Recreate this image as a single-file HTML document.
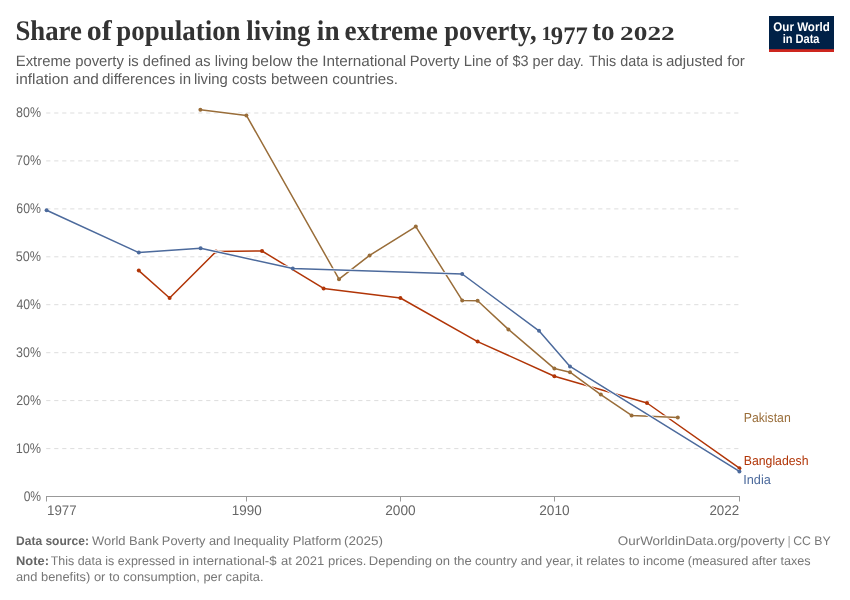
<!DOCTYPE html>
<html><head><meta charset="utf-8"><title>Share of population living in extreme poverty</title>
<style>
html,body{margin:0;padding:0;background:#fff;}
body{width:850px;height:600px;overflow:hidden;}
svg{display:block;will-change:transform;text-rendering:geometricPrecision;font-family:"Liberation Sans",sans-serif;}
.ax{font-size:14px;fill:#666;}
.title{font-family:"Liberation Serif",serif;font-weight:bold;font-size:28.5px;fill:#333;}
.num{font-family:"Liberation Serif",serif;font-weight:bold;font-size:20px;fill:#333;}
.num2{font-family:"Liberation Serif",serif;font-weight:bold;font-size:25.4px;fill:#333;}
.sub{font-size:15px;fill:#5b5b5b;}
.ft{font-size:12.5px;fill:#777;}
.ftb{font-weight:bold;fill:#666;}
.lbl{font-size:13px;}
.logo{font-size:12.5px;font-weight:bold;fill:#fff;}
</style></head><body>
<svg width="850" height="600" viewBox="0 0 850 600">
<rect width="850" height="600" fill="#fff"/>
<g id="title">
<text id="t0" class="title" x="15.47" y="40" textLength="66.42" lengthAdjust="spacingAndGlyphs">Share</text>
<text id="t1" class="title" x="86.77" y="40" textLength="24.97" lengthAdjust="spacingAndGlyphs">of</text>
<text id="t2" class="title" x="116.36" y="40" textLength="124.21" lengthAdjust="spacingAndGlyphs">population</text>
<text id="t3" class="title" x="246.37" y="40" textLength="64.04" lengthAdjust="spacingAndGlyphs">living</text>
<text id="t4" class="title" x="316.87" y="40" textLength="22.68" lengthAdjust="spacingAndGlyphs">in</text>
<text id="t5" class="title" x="344.62" y="40" textLength="93.26" lengthAdjust="spacingAndGlyphs">extreme</text>
<text id="t6" class="title" x="444.33" y="40" textLength="92.27" lengthAdjust="spacingAndGlyphs">poverty,</text>
<text id="t7" class="title" x="592.12" y="40" textLength="22.52" lengthAdjust="spacingAndGlyphs">to</text>
<text id="n1" class="num" x="541.39" y="40" textLength="9.94" lengthAdjust="spacingAndGlyphs">1</text>
<text id="n2" class="num2" x="550.83" y="44" textLength="37.00" lengthAdjust="spacingAndGlyphs">977</text>
<text id="n3" class="num" x="620.13" y="40" textLength="54.53" lengthAdjust="spacingAndGlyphs">2022</text>
</g>
<g id="subtitle">
<text id="s1_0" class="sub" x="15.75" y="66" textLength="122.95" lengthAdjust="spacingAndGlyphs">Extreme poverty is</text>
<text id="s1_1" class="sub" x="142.85" y="66" textLength="105.29" lengthAdjust="spacingAndGlyphs">defined as living</text>
<text id="s1_2" class="sub" x="251.67" y="66" textLength="66.70" lengthAdjust="spacingAndGlyphs">below the</text>
<text id="s1_3" class="sub" x="322.16" y="66" textLength="84.08" lengthAdjust="spacingAndGlyphs">International</text>
<text id="s1_4" class="sub" x="409.76" y="66" textLength="98.23" lengthAdjust="spacingAndGlyphs">Poverty Line of</text>
<text id="s1_5" class="sub" x="512.52" y="66" textLength="71.26" lengthAdjust="spacingAndGlyphs">$3 per day.</text>
<text id="s1_6" class="sub" x="589.08" y="66" textLength="73.56" lengthAdjust="spacingAndGlyphs">This data is</text>
<text id="s1_7" class="sub" x="665.95" y="66" textLength="78.88" lengthAdjust="spacingAndGlyphs">adjusted for</text>
<text id="s2_0" class="sub" x="15.87" y="84" textLength="82.91" lengthAdjust="spacingAndGlyphs">inflation and</text>
<text id="s2_1" class="sub" x="102.03" y="84" textLength="89.04" lengthAdjust="spacingAndGlyphs">differences in</text>
<text id="s2_2" class="sub" x="193.98" y="84" textLength="72.77" lengthAdjust="spacingAndGlyphs">living costs</text>
<text id="s2_3" class="sub" x="270.92" y="84" textLength="127.06" lengthAdjust="spacingAndGlyphs">between countries.</text>
</g>
<g id="logo">
<rect x="769" y="16" width="65" height="36" fill="#002147"/>
<rect x="769" y="49.2" width="65" height="2.8" fill="#ce261e"/>
<text id="l1" class="logo" x="773.37" y="30.6" textLength="56.37" lengthAdjust="spacingAndGlyphs">Our World</text>
<text id="l2" class="logo" x="782.63" y="42.6" textLength="36.91" lengthAdjust="spacingAndGlyphs">in Data</text>
</g>
<g id="grid">
<line x1="46.2" x2="739.4" y1="448.6" y2="448.6" stroke="#ddd" stroke-width="1" stroke-dasharray="4.2,3.8"/>
<line x1="46.2" x2="739.4" y1="400.6" y2="400.6" stroke="#ddd" stroke-width="1" stroke-dasharray="4.2,3.8"/>
<line x1="46.2" x2="739.4" y1="352.7" y2="352.7" stroke="#ddd" stroke-width="1" stroke-dasharray="4.2,3.8"/>
<line x1="46.2" x2="739.4" y1="304.7" y2="304.7" stroke="#ddd" stroke-width="1" stroke-dasharray="4.2,3.8"/>
<line x1="46.2" x2="739.4" y1="256.8" y2="256.8" stroke="#ddd" stroke-width="1" stroke-dasharray="4.2,3.8"/>
<line x1="46.2" x2="739.4" y1="208.9" y2="208.9" stroke="#ddd" stroke-width="1" stroke-dasharray="4.2,3.8"/>
<line x1="46.2" x2="739.4" y1="160.9" y2="160.9" stroke="#ddd" stroke-width="1" stroke-dasharray="4.2,3.8"/>
<line x1="46.2" x2="739.4" y1="113.0" y2="113.0" stroke="#ddd" stroke-width="1" stroke-dasharray="4.2,3.8"/>
</g>
<line x1="46" x2="740" y1="496.5" y2="496.5" stroke="#999" stroke-width="1"/>
<line x1="46.5" x2="46.5" y1="496.0" y2="501.5" stroke="#999" stroke-width="1"/>
<line x1="246.5" x2="246.5" y1="496.0" y2="501.5" stroke="#999" stroke-width="1"/>
<line x1="400.5" x2="400.5" y1="496.0" y2="501.5" stroke="#999" stroke-width="1"/>
<line x1="554.5" x2="554.5" y1="496.0" y2="501.5" stroke="#999" stroke-width="1"/>
<line x1="739.5" x2="739.5" y1="496.0" y2="501.5" stroke="#999" stroke-width="1"/>

<g id="ylabels">
<text id="y0" class="ax" x="23.67" y="501" textLength="17.42" lengthAdjust="spacingAndGlyphs">0%</text>
<text id="y1" class="ax" x="15.81" y="453" textLength="25.32" lengthAdjust="spacingAndGlyphs">10%</text>
<text id="y2" class="ax" x="16.15" y="405" textLength="24.88" lengthAdjust="spacingAndGlyphs">20%</text>
<text id="y3" class="ax" x="16.08" y="357" textLength="24.90" lengthAdjust="spacingAndGlyphs">30%</text>
<text id="y4" class="ax" x="16.46" y="309" textLength="24.55" lengthAdjust="spacingAndGlyphs">40%</text>
<text id="y5" class="ax" x="15.81" y="261" textLength="25.29" lengthAdjust="spacingAndGlyphs">50%</text>
<text id="y6" class="ax" x="16.31" y="213" textLength="24.60" lengthAdjust="spacingAndGlyphs">60%</text>
<text id="y7" class="ax" x="15.93" y="165" textLength="25.16" lengthAdjust="spacingAndGlyphs">70%</text>
<text id="y8" class="ax" x="16.04" y="117" textLength="24.94" lengthAdjust="spacingAndGlyphs">80%</text>
</g>
<g id="xlabels">
<text id="x0" class="ax" x="47.06" y="515" textLength="29.65" lengthAdjust="spacingAndGlyphs">1977</text>
<text id="x1" class="ax" x="231.84" y="515" textLength="29.88" lengthAdjust="spacingAndGlyphs">1990</text>
<text id="x2" class="ax" x="385.27" y="515" textLength="30.43" lengthAdjust="spacingAndGlyphs">2000</text>
<text id="x3" class="ax" x="539.27" y="515" textLength="30.43" lengthAdjust="spacingAndGlyphs">2010</text>
<text id="x4" class="ax" x="709.42" y="515" textLength="29.74" lengthAdjust="spacingAndGlyphs">2022</text>
</g>
<g id="lines">
<path d="M138.8,270.6 L169.6,298.0 L216.0,251.6 L262.0,251.0 L323.6,288.4 L400.4,298.0 L477.6,341.6 L554.4,376.2 L647.0,403.0 L739.4,468.2" fill="none" stroke="#fff" stroke-width="3" stroke-linejoin="round" stroke-linecap="butt"/>
<path d="M138.8,270.6 L169.6,298.0 L216.0,251.6 L262.0,251.0 L323.6,288.4 L400.4,298.0 L477.6,341.6 L554.4,376.2 L647.0,403.0 L739.4,468.2" fill="none" stroke="#B13507" stroke-width="1.5" stroke-linejoin="round" stroke-linecap="round"/>
<circle cx="138.8" cy="270.6" r="2" fill="#B13507"/><circle cx="169.6" cy="298.0" r="2" fill="#B13507"/><circle cx="216.0" cy="251.6" r="2" fill="#B13507"/><circle cx="262.0" cy="251.0" r="2" fill="#B13507"/><circle cx="323.6" cy="288.4" r="2" fill="#B13507"/><circle cx="400.4" cy="298.0" r="2" fill="#B13507"/><circle cx="477.6" cy="341.6" r="2" fill="#B13507"/><circle cx="554.4" cy="376.2" r="2" fill="#B13507"/><circle cx="647.0" cy="403.0" r="2" fill="#B13507"/><circle cx="739.4" cy="468.2" r="2" fill="#B13507"/>
<path d="M200.4,109.8 L246.4,115.4 L339.0,279.2 L369.6,255.4 L415.8,226.6 L462.2,300.4 L477.6,300.8 L508.4,329.4 L554.4,368.6 L570.0,372.2 L600.8,394.6 L631.6,415.4 L677.8,417.4" fill="none" stroke="#fff" stroke-width="3" stroke-linejoin="round" stroke-linecap="butt"/>
<path d="M200.4,109.8 L246.4,115.4 L339.0,279.2 L369.6,255.4 L415.8,226.6 L462.2,300.4 L477.6,300.8 L508.4,329.4 L554.4,368.6 L570.0,372.2 L600.8,394.6 L631.6,415.4 L677.8,417.4" fill="none" stroke="#996D39" stroke-width="1.5" stroke-linejoin="round" stroke-linecap="round"/>
<circle cx="200.4" cy="109.8" r="2" fill="#996D39"/><circle cx="246.4" cy="115.4" r="2" fill="#996D39"/><circle cx="339.0" cy="279.2" r="2" fill="#996D39"/><circle cx="369.6" cy="255.4" r="2" fill="#996D39"/><circle cx="415.8" cy="226.6" r="2" fill="#996D39"/><circle cx="462.2" cy="300.4" r="2" fill="#996D39"/><circle cx="477.6" cy="300.8" r="2" fill="#996D39"/><circle cx="508.4" cy="329.4" r="2" fill="#996D39"/><circle cx="554.4" cy="368.6" r="2" fill="#996D39"/><circle cx="570.0" cy="372.2" r="2" fill="#996D39"/><circle cx="600.8" cy="394.6" r="2" fill="#996D39"/><circle cx="631.6" cy="415.4" r="2" fill="#996D39"/><circle cx="677.8" cy="417.4" r="2" fill="#996D39"/>
<path d="M46.6,210.2 L138.8,252.6 L200.6,248.2 L292.8,268.5 L462.2,274.0 L539.0,330.8 L570.0,366.4 L739.4,471.4" fill="none" stroke="#fff" stroke-width="3" stroke-linejoin="round" stroke-linecap="butt"/>
<path d="M46.6,210.2 L138.8,252.6 L200.6,248.2 L292.8,268.5 L462.2,274.0 L539.0,330.8 L570.0,366.4 L739.4,471.4" fill="none" stroke="#4C6A9C" stroke-width="1.5" stroke-linejoin="round" stroke-linecap="round"/>
<circle cx="46.6" cy="210.2" r="2" fill="#4C6A9C"/><circle cx="138.8" cy="252.6" r="2" fill="#4C6A9C"/><circle cx="200.6" cy="248.2" r="2" fill="#4C6A9C"/><circle cx="292.8" cy="268.5" r="2" fill="#4C6A9C"/><circle cx="462.2" cy="274.0" r="2" fill="#4C6A9C"/><circle cx="539.0" cy="330.8" r="2" fill="#4C6A9C"/><circle cx="570.0" cy="366.4" r="2" fill="#4C6A9C"/><circle cx="739.4" cy="471.4" r="2" fill="#4C6A9C"/>
</g>
<g id="labels">
<text id="e1" class="lbl" x="743.73" y="422" textLength="47.02" lengthAdjust="spacingAndGlyphs" fill="#996D39">Pakistan</text>
<text id="e2" class="lbl" x="743.80" y="465" textLength="64.69" lengthAdjust="spacingAndGlyphs" fill="#B13507">Bangladesh</text>
<text id="e3" class="lbl" x="743.23" y="484" textLength="27.63" lengthAdjust="spacingAndGlyphs" fill="#4C6A9C">India</text>
</g>
<g id="footer">
<text id="f1" class="ft ftb" x="16.00" y="545" textLength="72.90" lengthAdjust="spacingAndGlyphs">Data source:</text>
<text id="f2_0" class="ft" x="91.97" y="545" textLength="66.65" lengthAdjust="spacingAndGlyphs">World Bank</text>
<text id="f2_1" class="ft" x="161.87" y="545" textLength="68.55" lengthAdjust="spacingAndGlyphs">Poverty and</text>
<text id="f2_2" class="ft" x="233.21" y="545" textLength="108.10" lengthAdjust="spacingAndGlyphs">Inequality Platform</text>
<text id="f2_3" class="ft" x="344.02" y="545" textLength="38.98" lengthAdjust="spacingAndGlyphs">(2025)</text>
<text id="f3a" class="ft" x="617.77" y="545" textLength="166.83" lengthAdjust="spacingAndGlyphs">OurWorldinData.org/poverty</text>
<text class="ft" x="787.6" y="545" fill-opacity="0.7">|</text>
<text id="f3c" class="ft" x="793.19" y="545" textLength="37.56" lengthAdjust="spacingAndGlyphs">CC BY</text>
<text id="f4" class="ft ftb" x="15.98" y="565" textLength="32.98" lengthAdjust="spacingAndGlyphs">Note:</text>
<text id="f5_0" class="ft" x="50.68" y="565" textLength="124.49" lengthAdjust="spacingAndGlyphs">This data is expressed</text>
<text id="f5_1" class="ft" x="178.84" y="565" textLength="97.76" lengthAdjust="spacingAndGlyphs">in international-$</text>
<text id="f5_2" class="ft" x="280.90" y="565" textLength="85.43" lengthAdjust="spacingAndGlyphs">at 2021 prices.</text>
<text id="f5_3" class="ft" x="368.83" y="565" textLength="102.98" lengthAdjust="spacingAndGlyphs">Depending on the</text>
<text id="f5_4" class="ft" x="475.00" y="565" textLength="98.58" lengthAdjust="spacingAndGlyphs">country and year,</text>
<text id="f5_5" class="ft" x="576.13" y="565" textLength="108.64" lengthAdjust="spacingAndGlyphs">it relates to income</text>
<text id="f5_6" class="ft" x="687.77" y="565" textLength="122.92" lengthAdjust="spacingAndGlyphs">(measured after taxes</text>
<text id="f6_0" class="ft" x="15.93" y="580.5" textLength="103.76" lengthAdjust="spacingAndGlyphs">and benefits) or to</text>
<text id="f6_1" class="ft" x="123.32" y="580.5" textLength="140.18" lengthAdjust="spacingAndGlyphs">consumption, per capita.</text>
</g>
</svg>
</body></html>
